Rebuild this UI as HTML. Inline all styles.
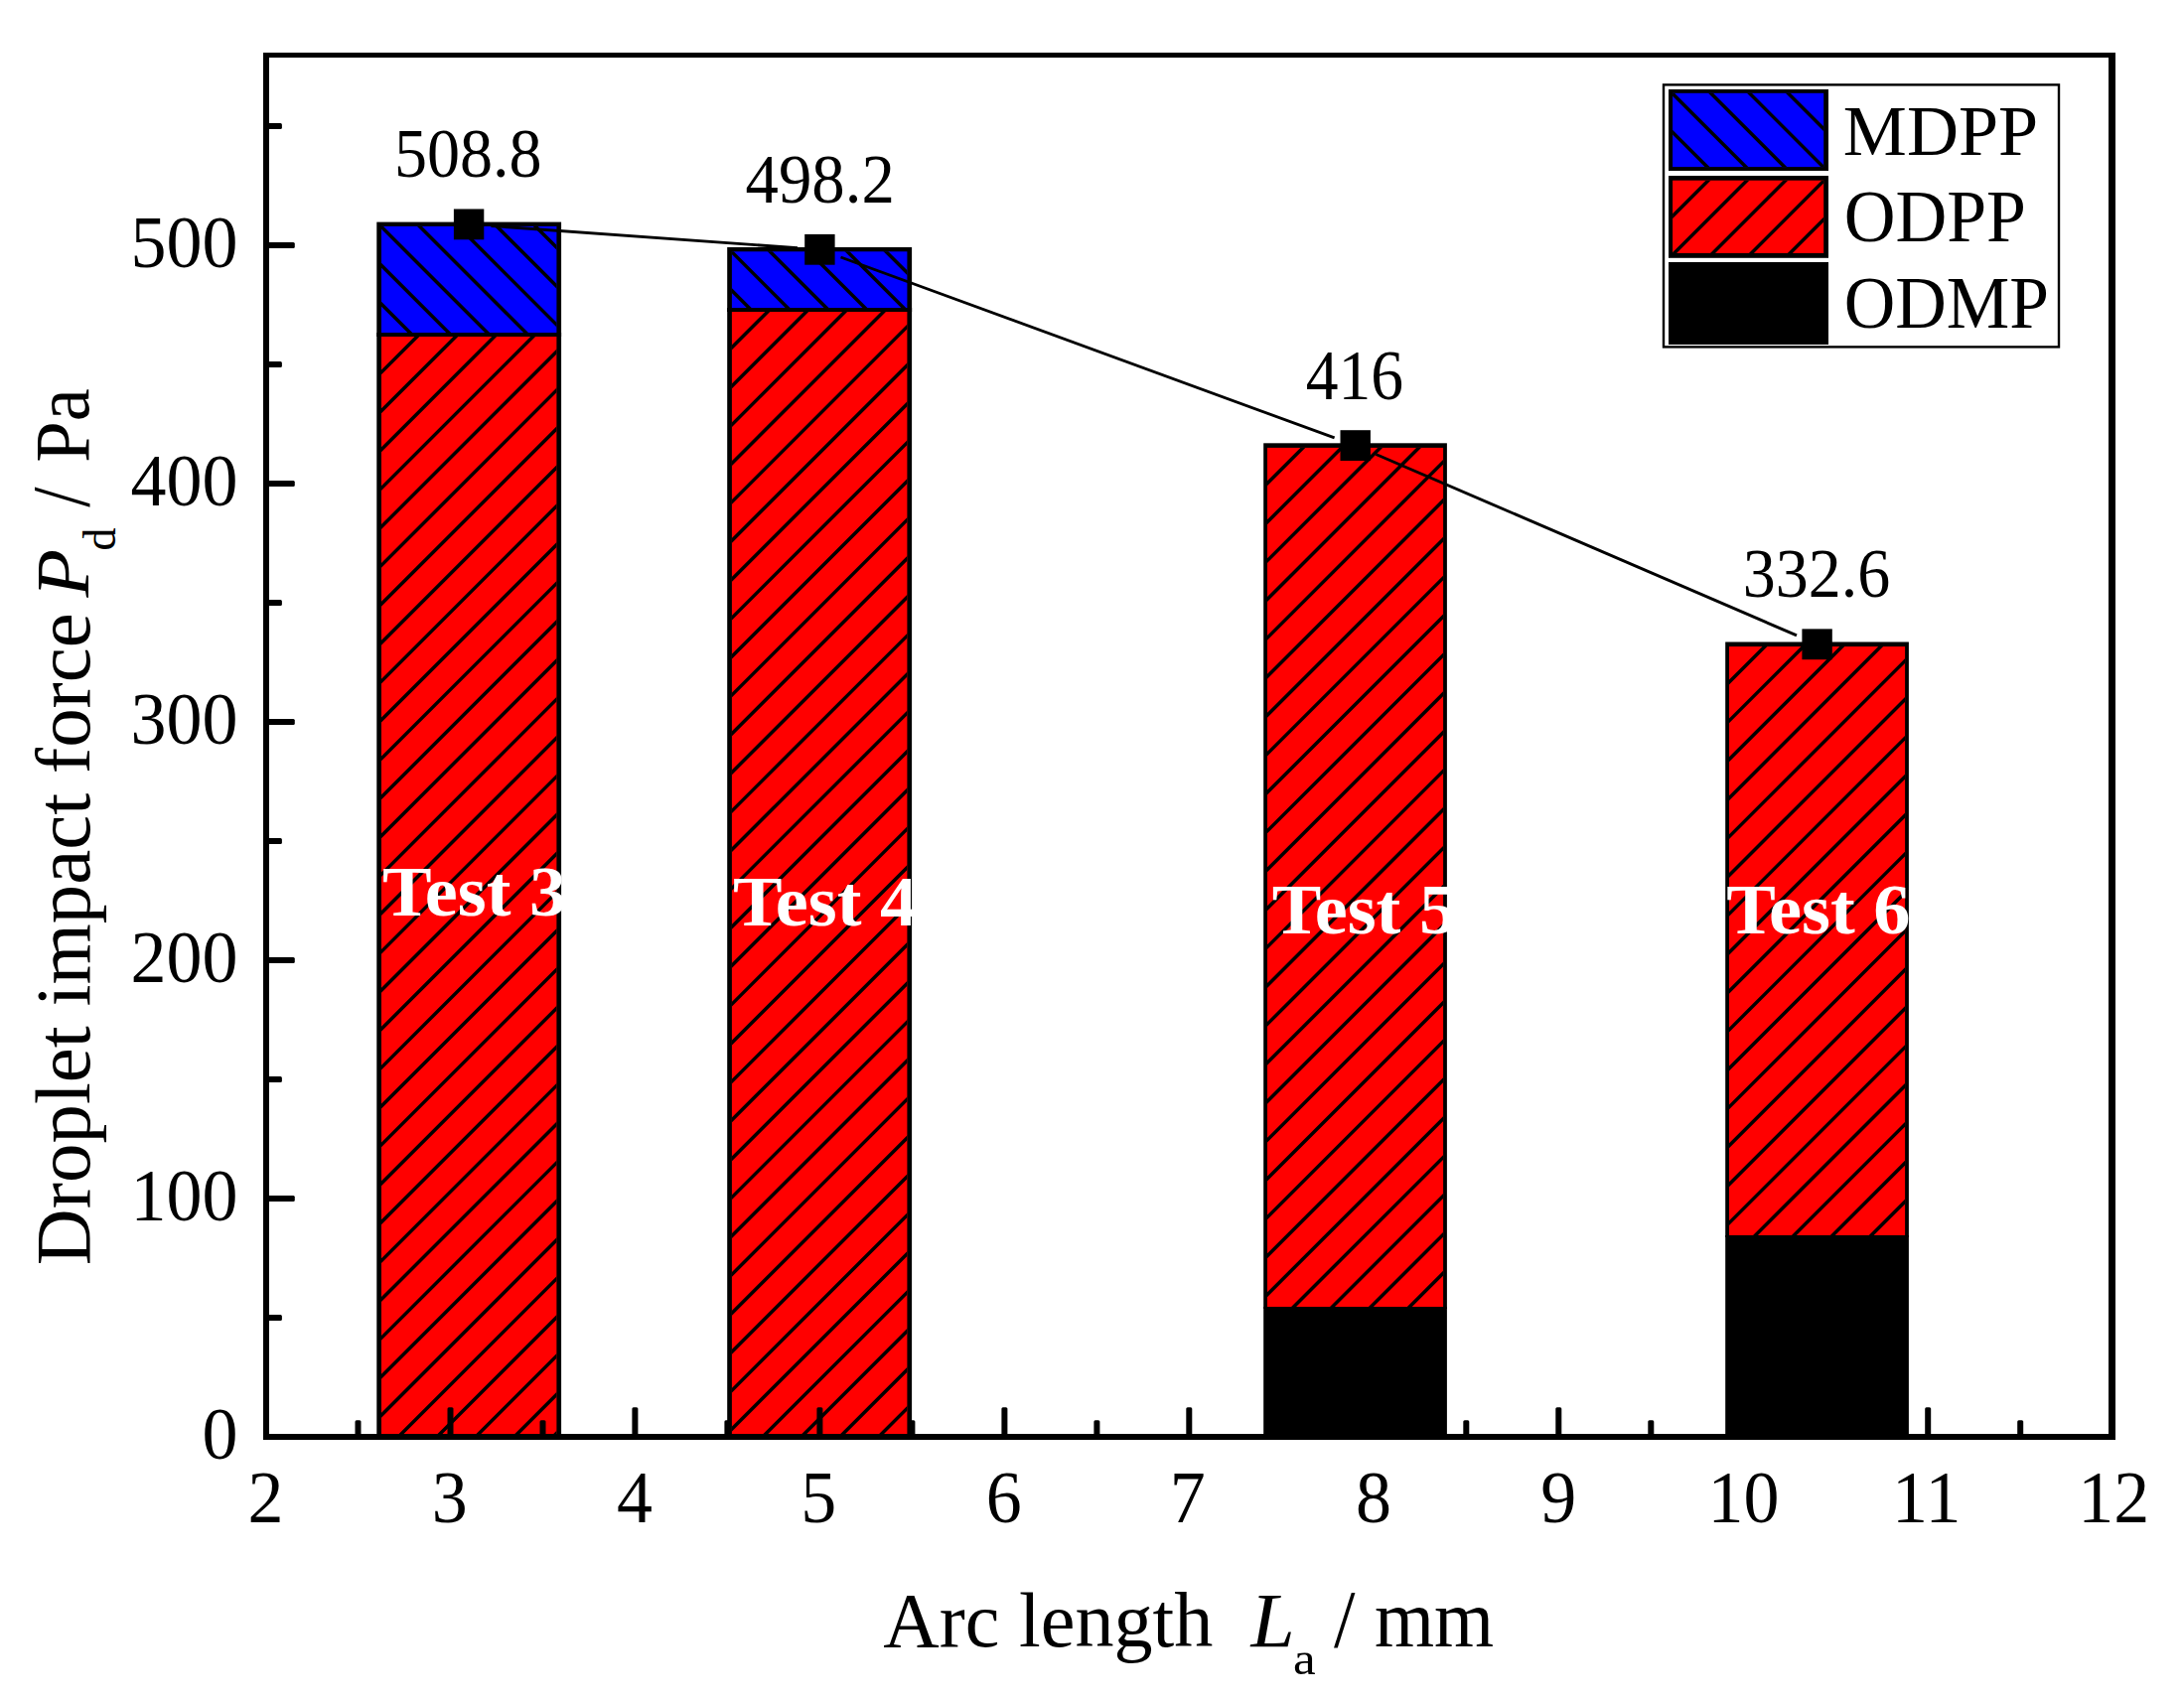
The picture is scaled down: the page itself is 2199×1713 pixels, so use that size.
<!DOCTYPE html><html><head><meta charset="utf-8"><title>Droplet impact force</title>
<style>html,body{margin:0;padding:0;background:#fff}svg{display:block}text{font-family:"Liberation Serif","Times New Roman",serif;fill:#000;white-space:pre}</style></head><body>
<svg width="2199" height="1713" viewBox="0 0 2199 1713">
<rect width="2199" height="1713" fill="#fff"/>
<defs><clipPath id="c0"><rect x="384.0" y="339.0" width="176.4" height="1108.0"/></clipPath><clipPath id="c1"><rect x="384.0" y="227.9" width="176.4" height="107.1"/></clipPath><clipPath id="c2"><rect x="736.9" y="314.0" width="176.5" height="1133.0"/></clipPath><clipPath id="c3"><rect x="736.9" y="253.3" width="176.5" height="56.7"/></clipPath><clipPath id="c4"><rect x="1276.0" y="450.9" width="177.1" height="865.1"/></clipPath><clipPath id="c5"><rect x="1741.0" y="651.1" width="177.1" height="592.9"/></clipPath><clipPath id="c6"><rect x="1684.1" y="93.8" width="152.1" height="74.3"/></clipPath><clipPath id="c7"><rect x="1684.1" y="181.7" width="152.1" height="73.2"/></clipPath></defs>
<rect x="379.3" y="335.0" width="185.8" height="1112.0" fill="#000"/>
<rect x="384.0" y="339.0" width="176.4" height="1108.0" fill="#ff0000"/>
<path clip-path="url(#c0)" d="M381.0 339.0L563.4 156.6M381.0 377.9L563.4 195.5M381.0 416.8L563.4 234.4M381.0 455.7L563.4 273.3M381.0 494.6L563.4 312.2M381.0 533.5L563.4 351.1M381.0 572.4L563.4 390.0M381.0 611.3L563.4 428.9M381.0 650.2L563.4 467.8M381.0 689.1L563.4 506.7M381.0 728.0L563.4 545.6M381.0 766.9L563.4 584.5M381.0 805.8L563.4 623.4M381.0 844.7L563.4 662.3M381.0 883.6L563.4 701.2M381.0 922.5L563.4 740.1M381.0 961.4L563.4 779.0M381.0 1000.3L563.4 817.9M381.0 1039.2L563.4 856.8M381.0 1078.1L563.4 895.7M381.0 1117.0L563.4 934.6M381.0 1155.9L563.4 973.5M381.0 1194.8L563.4 1012.4M381.0 1233.7L563.4 1051.3M381.0 1272.6L563.4 1090.2M381.0 1311.5L563.4 1129.1M381.0 1350.4L563.4 1168.0M381.0 1389.3L563.4 1206.9M381.0 1428.2L563.4 1245.8M381.0 1467.1L563.4 1284.7M381.0 1506.0L563.4 1323.6M381.0 1544.9L563.4 1362.5M381.0 1583.8L563.4 1401.4M381.0 1622.7L563.4 1440.3" stroke="#000" stroke-width="3.5" fill="none"/>
<rect x="379.3" y="223.6" width="185.8" height="115.4" fill="#000"/>
<rect x="384.0" y="227.9" width="176.4" height="107.1" fill="#0000ff"/>
<path clip-path="url(#c1)" d="M381.0 303.2L563.4 485.6M381.0 264.3L563.4 446.7M381.0 225.4L563.4 407.8M381.0 186.5L563.4 368.9M381.0 147.6L563.4 330.0M381.0 108.7L563.4 291.1M381.0 69.8L563.4 252.2" stroke="#000" stroke-width="3.5" fill="none"/>
<rect x="732.2" y="310.0" width="185.9" height="1137.0" fill="#000"/>
<rect x="736.9" y="314.0" width="176.5" height="1133.0" fill="#ff0000"/>
<path clip-path="url(#c2)" d="M733.9 314.0L916.4 131.5M733.9 352.9L916.4 170.4M733.9 391.8L916.4 209.3M733.9 430.7L916.4 248.2M733.9 469.6L916.4 287.1M733.9 508.5L916.4 326.0M733.9 547.4L916.4 364.9M733.9 586.3L916.4 403.8M733.9 625.2L916.4 442.7M733.9 664.1L916.4 481.6M733.9 703.0L916.4 520.5M733.9 741.9L916.4 559.4M733.9 780.8L916.4 598.3M733.9 819.7L916.4 637.2M733.9 858.6L916.4 676.1M733.9 897.5L916.4 715.0M733.9 936.4L916.4 753.9M733.9 975.3L916.4 792.8M733.9 1014.2L916.4 831.7M733.9 1053.1L916.4 870.6M733.9 1092.0L916.4 909.5M733.9 1130.9L916.4 948.4M733.9 1169.8L916.4 987.3M733.9 1208.7L916.4 1026.2M733.9 1247.6L916.4 1065.1M733.9 1286.5L916.4 1104.0M733.9 1325.4L916.4 1142.9M733.9 1364.3L916.4 1181.8M733.9 1403.2L916.4 1220.7M733.9 1442.1L916.4 1259.6M733.9 1481.0L916.4 1298.5M733.9 1519.9L916.4 1337.4M733.9 1558.8L916.4 1376.3M733.9 1597.7L916.4 1415.2" stroke="#000" stroke-width="3.5" fill="none"/>
<rect x="732.2" y="249.0" width="185.9" height="65.0" fill="#000"/>
<rect x="736.9" y="253.3" width="176.5" height="56.7" fill="#0000ff"/>
<path clip-path="url(#c3)" d="M733.9 289.7L916.4 472.2M733.9 250.8L916.4 433.3M733.9 211.9L916.4 394.4M733.9 173.0L916.4 355.5M733.9 134.1L916.4 316.6M733.9 95.2L916.4 277.7" stroke="#000" stroke-width="3.5" fill="none"/>
<rect x="1272.2" y="446.3" width="184.7" height="871.7" fill="#000"/>
<rect x="1276.0" y="450.9" width="177.1" height="865.1" fill="#ff0000"/>
<path clip-path="url(#c4)" d="M1273.0 450.9L1456.1 267.8M1273.0 489.8L1456.1 306.7M1273.0 528.7L1456.1 345.6M1273.0 567.6L1456.1 384.5M1273.0 606.5L1456.1 423.4M1273.0 645.4L1456.1 462.3M1273.0 684.3L1456.1 501.2M1273.0 723.2L1456.1 540.1M1273.0 762.1L1456.1 579.0M1273.0 801.0L1456.1 617.9M1273.0 839.9L1456.1 656.8M1273.0 878.8L1456.1 695.7M1273.0 917.7L1456.1 734.6M1273.0 956.6L1456.1 773.5M1273.0 995.5L1456.1 812.4M1273.0 1034.4L1456.1 851.3M1273.0 1073.3L1456.1 890.2M1273.0 1112.2L1456.1 929.1M1273.0 1151.1L1456.1 968.0M1273.0 1190.0L1456.1 1006.9M1273.0 1228.9L1456.1 1045.8M1273.0 1267.8L1456.1 1084.7M1273.0 1306.7L1456.1 1123.6M1273.0 1345.6L1456.1 1162.5M1273.0 1384.5L1456.1 1201.4M1273.0 1423.4L1456.1 1240.3M1273.0 1462.3L1456.1 1279.2" stroke="#000" stroke-width="3.5" fill="none"/>
<rect x="1272.2" y="1316.0" width="184.7" height="131.0" fill="#000"/>
<rect x="1737.2" y="646.5" width="184.7" height="599.5" fill="#000"/>
<rect x="1741.0" y="651.1" width="177.1" height="592.9" fill="#ff0000"/>
<path clip-path="url(#c5)" d="M1738.0 651.1L1921.1 468.0M1738.0 690.0L1921.1 506.9M1738.0 728.9L1921.1 545.8M1738.0 767.8L1921.1 584.7M1738.0 806.7L1921.1 623.6M1738.0 845.6L1921.1 662.5M1738.0 884.5L1921.1 701.4M1738.0 923.4L1921.1 740.3M1738.0 962.3L1921.1 779.2M1738.0 1001.2L1921.1 818.1M1738.0 1040.1L1921.1 857.0M1738.0 1079.0L1921.1 895.9M1738.0 1117.9L1921.1 934.8M1738.0 1156.8L1921.1 973.7M1738.0 1195.7L1921.1 1012.6M1738.0 1234.6L1921.1 1051.5M1738.0 1273.5L1921.1 1090.4M1738.0 1312.4L1921.1 1129.3M1738.0 1351.3L1921.1 1168.2M1738.0 1390.2L1921.1 1207.1M1738.0 1429.1L1921.1 1246.0" stroke="#000" stroke-width="3.5" fill="none"/>
<rect x="1737.2" y="1244.0" width="184.7" height="203.0" fill="#000"/>
<rect x="450.5" y="1417.2" width="6" height="30" rx="1.5" fill="#000"/>
<rect x="636.4" y="1417.2" width="6" height="30" rx="1.5" fill="#000"/>
<rect x="822.4" y="1417.2" width="6" height="30" rx="1.5" fill="#000"/>
<rect x="1008.4" y="1417.2" width="6" height="30" rx="1.5" fill="#000"/>
<rect x="1194.3" y="1417.2" width="6" height="30" rx="1.5" fill="#000"/>
<rect x="1380.3" y="1417.2" width="6" height="30" rx="1.5" fill="#000"/>
<rect x="1566.3" y="1417.2" width="6" height="30" rx="1.5" fill="#000"/>
<rect x="1752.3" y="1417.2" width="6" height="30" rx="1.5" fill="#000"/>
<rect x="1938.2" y="1417.2" width="6" height="30" rx="1.5" fill="#000"/>
<rect x="357.5" y="1430.2" width="6" height="17" rx="1.5" fill="#000"/>
<rect x="543.5" y="1430.2" width="6" height="17" rx="1.5" fill="#000"/>
<rect x="729.4" y="1430.2" width="6" height="17" rx="1.5" fill="#000"/>
<rect x="915.4" y="1430.2" width="6" height="17" rx="1.5" fill="#000"/>
<rect x="1101.4" y="1430.2" width="6" height="17" rx="1.5" fill="#000"/>
<rect x="1287.3" y="1430.2" width="6" height="17" rx="1.5" fill="#000"/>
<rect x="1473.3" y="1430.2" width="6" height="17" rx="1.5" fill="#000"/>
<rect x="1659.3" y="1430.2" width="6" height="17" rx="1.5" fill="#000"/>
<rect x="1845.2" y="1430.2" width="6" height="17" rx="1.5" fill="#000"/>
<rect x="2031.2" y="1430.2" width="6" height="17" rx="1.5" fill="#000"/>
<rect x="268" y="1204.0" width="28.8" height="6" rx="1.5" fill="#000"/>
<rect x="268" y="964.0" width="28.8" height="6" rx="1.5" fill="#000"/>
<rect x="268" y="724.0" width="28.8" height="6" rx="1.5" fill="#000"/>
<rect x="268" y="484.0" width="28.8" height="6" rx="1.5" fill="#000"/>
<rect x="268" y="244.0" width="28.8" height="6" rx="1.5" fill="#000"/>
<rect x="268" y="1324.0" width="15.9" height="6" rx="1.5" fill="#000"/>
<rect x="268" y="1084.0" width="15.9" height="6" rx="1.5" fill="#000"/>
<rect x="268" y="844.0" width="15.9" height="6" rx="1.5" fill="#000"/>
<rect x="268" y="604.0" width="15.9" height="6" rx="1.5" fill="#000"/>
<rect x="268" y="364.0" width="15.9" height="6" rx="1.5" fill="#000"/>
<rect x="268" y="124.0" width="15.9" height="6" rx="1.5" fill="#000"/>
<rect x="265" y="53" width="6" height="1397" fill="#000"/>
<rect x="2123" y="53" width="7" height="1397" fill="#000"/>
<rect x="265" y="53" width="1865" height="5" fill="#000"/>
<rect x="265" y="1444" width="1865" height="6" fill="#000"/>
<line x1="494.5" y1="227.5" x2="803.0" y2="249.7" stroke="#000" stroke-width="2.9"/>
<line x1="846.5" y1="259.0" x2="1343.6" y2="440.9" stroke="#000" stroke-width="2.9"/>
<line x1="1385.4" y1="457.5" x2="1809.0" y2="639.9" stroke="#000" stroke-width="2.9"/>
<rect x="456.9" y="210.5" width="30.4" height="30.8" fill="#000"/>
<rect x="810.2" y="235.9" width="30.4" height="30.8" fill="#000"/>
<rect x="1349.5" y="433.2" width="30.4" height="30.8" fill="#000"/>
<rect x="1814.4" y="633.4" width="30.4" height="30.8" fill="#000"/>
<rect x="1675" y="85.4" width="398" height="264" fill="#fff" stroke="#000" stroke-width="2.4"/>
<rect x="1680.0" y="90.0" width="161.0" height="82.0" fill="#000"/>
<rect x="1684.1" y="93.8" width="152.1" height="74.3" fill="#0000ff"/>
<path clip-path="url(#c6)" d="M1681.1 169.1L1839.2 327.2M1681.1 130.2L1839.2 288.3M1681.1 91.3L1839.2 249.4M1681.1 52.4L1839.2 210.5M1681.1 13.5L1839.2 171.6M1681.1 -25.4L1839.2 132.7M1681.1 -64.3L1839.2 93.8" stroke="#000" stroke-width="3.5" fill="none"/>
<rect x="1680.0" y="177.0" width="161.0" height="82.8" fill="#000"/>
<rect x="1684.1" y="181.7" width="152.1" height="73.2" fill="#ff0000"/>
<path clip-path="url(#c7)" d="M1681.1 181.7L1839.2 23.6M1681.1 220.6L1839.2 62.5M1681.1 259.5L1839.2 101.4M1681.1 298.4L1839.2 140.3M1681.1 337.3L1839.2 179.2M1681.1 376.2L1839.2 218.1" stroke="#000" stroke-width="3.5" fill="none"/>
<rect x="1680" y="264" width="161" height="83" fill="#000"/>
<text transform="translate(396.95 178.06) scale(0.9865 1.0374)" font-size="67">508.8</text>
<text transform="translate(750.55 203.76) scale(0.9969 1.0396)" font-size="67">498.2</text>
<text transform="translate(1314.68 401.57) scale(0.9789 1.0592)" font-size="67">416</text>
<text transform="translate(1754.70 601.25) scale(0.9849 1.0519)" font-size="67">332.6</text>
<text transform="translate(1855.80 155.75) scale(1.0013 1.0105)" font-size="72">MDPP</text>
<text transform="translate(1856.71 243.02) scale(0.9958 1.0351)" font-size="72">ODPP</text>
<text transform="translate(1856.73 330.23) scale(0.9913 1.0289)" font-size="72">ODMP</text>
<text transform="translate(889.35 1658.07) scale(1.0021 0.9986)" font-size="78">Arc length</text>
<text transform="translate(1259.52 1657.50) scale(1.0173 0.9922)" font-size="78" font-style="italic">L</text>
<text transform="translate(1301.90 1685.51) scale(1.0865 0.9733)" font-size="47">a</text>
<text transform="translate(1343.10 1658.02) scale(0.9910 1.0450)" font-size="78">/ mm</text>
<text transform="translate(90.00 1274.18) scale(1.0000 1.0114) rotate(-90)" font-size="78">Droplet impact force</text>
<text transform="translate(88.65 601.39) scale(0.9892 1.0162) rotate(-90)" font-size="78" font-style="italic">P</text>
<text transform="translate(116.40 554.73) scale(1.0000 0.9882) rotate(-90)" font-size="47">d</text>
<text transform="translate(88.82 510.70) scale(1.0450 0.9349) rotate(-90)" font-size="78">/</text>
<text transform="translate(88.86 465.85) scale(0.9932 0.9565) rotate(-90)" font-size="78">Pa</text>
<text transform="translate(203.45 1469.30) scale(1.0000 1.0170)" font-size="72">0</text>
<text transform="translate(131.45 1229.30) scale(1.0000 1.0170)" font-size="72">100</text>
<text transform="translate(131.45 989.30) scale(1.0000 1.0170)" font-size="72">200</text>
<text transform="translate(131.45 749.30) scale(1.0000 1.0170)" font-size="72">300</text>
<text transform="translate(131.45 509.30) scale(1.0000 1.0170)" font-size="72">400</text>
<text transform="translate(131.45 269.30) scale(1.0000 1.0170)" font-size="72">500</text>
<text transform="translate(249.57 1532.90) scale(1.0000 1.0170)" font-size="72">2</text>
<text transform="translate(434.80 1532.90) scale(1.0000 1.0170)" font-size="72">3</text>
<text transform="translate(620.89 1532.90) scale(1.0000 1.0170)" font-size="72">4</text>
<text transform="translate(806.36 1532.90) scale(1.0000 1.0170)" font-size="72">5</text>
<text transform="translate(992.71 1532.90) scale(1.0000 1.0170)" font-size="72">6</text>
<text transform="translate(1177.67 1532.90) scale(1.0000 1.0170)" font-size="72">7</text>
<text transform="translate(1365.02 1532.90) scale(1.0000 1.0170)" font-size="72">8</text>
<text transform="translate(1551.37 1532.90) scale(1.0000 1.0170)" font-size="72">9</text>
<text transform="translate(1719.51 1532.90) scale(1.0000 1.0170)" font-size="72">10</text>
<text transform="translate(1905.11 1532.90) scale(1.0000 1.0170)" font-size="72">11</text>
<text transform="translate(2092.27 1532.90) scale(1.0000 1.0170)" font-size="72">12</text>
<text transform="translate(384.97 922.10) scale(1.0330 1.0000)" font-size="72" font-weight="bold" style="fill:#fff">Test 3</text>
<text transform="translate(737.97 932.10) scale(1.0330 1.0000)" font-size="72" font-weight="bold" style="fill:#fff">Test 4</text>
<text transform="translate(1280.87 940.00) scale(1.0330 1.0000)" font-size="72" font-weight="bold" style="fill:#fff">Test 5</text>
<text transform="translate(1738.17 940.00) scale(1.0330 1.0000)" font-size="72" font-weight="bold" style="fill:#fff">Test 6</text>
</svg></body></html>
